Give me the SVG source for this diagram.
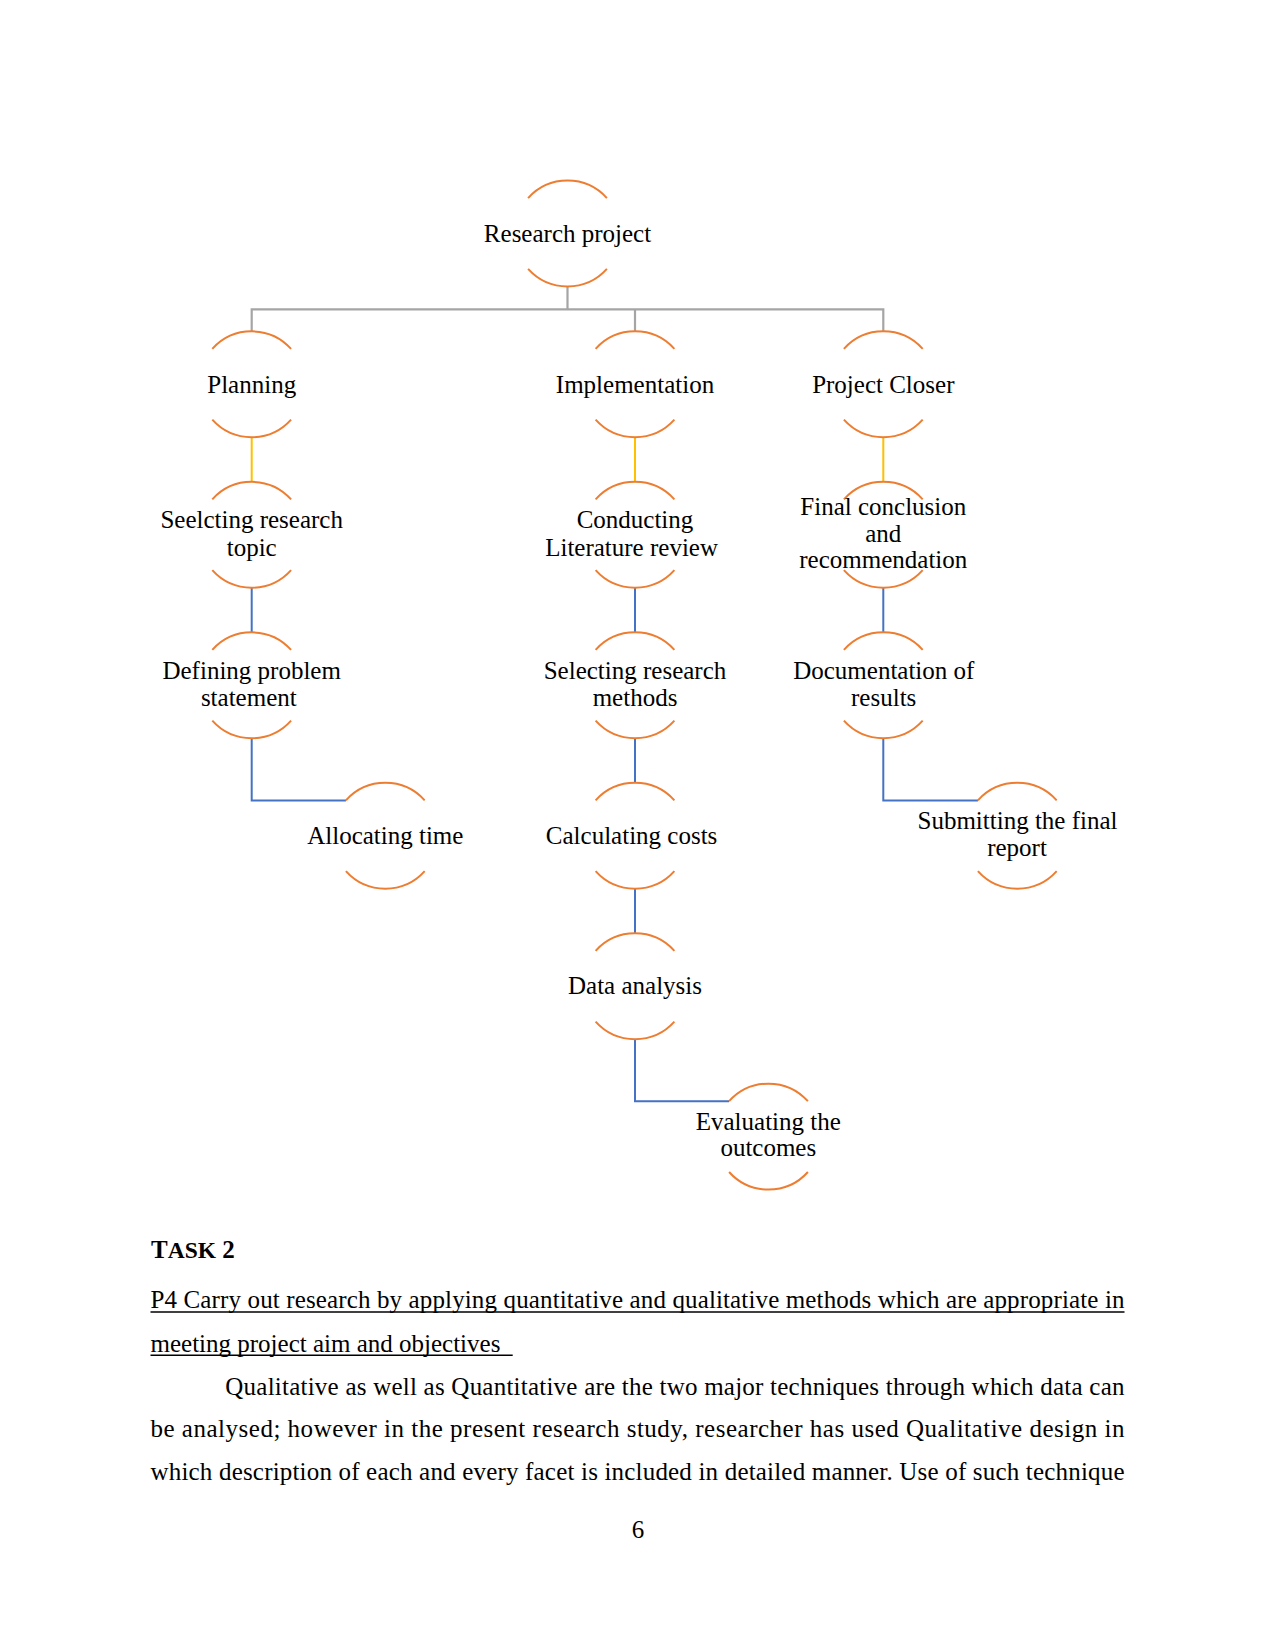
<svg xmlns="http://www.w3.org/2000/svg" xmlns:xlink="http://www.w3.org/1999/xlink" width="1275" height="1651" viewBox="0 0 1275 1651">
<style>
.arc{fill:none;stroke:#ed7d31;stroke-width:2}
.t{font-family:"Liberation Serif","Times New Roman",serif;font-size:25px;fill:#000;text-anchor:middle}
.b{font-family:"Liberation Serif","Times New Roman",serif;font-size:25px;fill:#000}
.gray{fill:none;stroke:#a5a5a5;stroke-width:2.2}
.yel{fill:none;stroke:#ffc000;stroke-width:2}
.blue{fill:none;stroke:#4472c4;stroke-width:2}
.ul{stroke:#000;stroke-width:1.4}
</style>
<defs>
<path id="ring" class="arc" d="M-39.4,-35.4 A53,53 0 0 1 39.4,-35.4 M-39.4,35.4 A53,53 0 0 0 39.4,35.4"/>
</defs>
<rect width="1275" height="1651" fill="#fff"/>
<g id="connectors">
<path class="gray" d="M567.5,286.5 V309.3 M251.7,309.3 H883.3 M251.7,308.2 V331.3 M635,309.3 V331.3 M883.3,308.2 V331.3"/>
<path class="yel" d="M251.7,437.3 V481.8 M635,437.3 V481.8 M883.3,437.3 V481.8"/>
<path class="blue" d="M251.7,587.8 V632.3 M635,587.8 V632.3 M883.3,587.8 V632.3 M635,738.3 V782.8 M635,888.8 V933.2"/>
<path class="blue" d="M251.7,738.3 V800.4 H345.9 M883.3,738.3 V800.4 H977.9 M635,1039.2 V1101.2 H729.1"/>
</g>
<g id="n0"><use xlink:href="#ring" x="567.5" y="233.5"/><text class="t" x="567.5" y="242">Research project</text></g>
<g id="n1"><use xlink:href="#ring" x="251.7" y="384.3"/><text class="t" x="251.7" y="392.5">Planning</text></g>
<g id="n2"><use xlink:href="#ring" x="635" y="384.3"/><text class="t" x="635" y="392.5">Implementation</text></g>
<g id="n3"><use xlink:href="#ring" x="883.3" y="384.3"/><text class="t" x="883.3" y="392.5">Project Closer</text></g>
<g id="n4"><use xlink:href="#ring" x="251.7" y="534.8"/><text class="t" x="251.7" y="528.3">Seelcting research</text><text class="t" x="251.7" y="555.5">topic</text></g>
<g id="n5"><use xlink:href="#ring" x="635" y="534.8"/><text class="t" x="635" y="528.3">Conducting</text><text class="t" x="631.6" y="555.5">Literature review</text></g>
<g id="n6"><use xlink:href="#ring" x="883.3" y="534.8"/><text class="t" x="883.3" y="515">Final conclusion</text><text class="t" x="883.3" y="541.7">and</text><text class="t" x="883.3" y="568.3">recommendation</text></g>
<g id="n7"><use xlink:href="#ring" x="251.7" y="685.3"/><text class="t" x="251.7" y="679">Defining problem</text><text class="t" x="248.8" y="705.7">statement</text></g>
<g id="n8"><use xlink:href="#ring" x="635" y="685.3"/><text class="t" x="635" y="679">Selecting research</text><text class="t" x="635" y="705.7">methods</text></g>
<g id="n9"><use xlink:href="#ring" x="883.3" y="685.3"/><text class="t" x="883.8" y="679">Documentation of</text><text class="t" x="883.7" y="705.7">results</text></g>
<g id="n10"><use xlink:href="#ring" x="385.3" y="835.8"/><text class="t" x="385.3" y="844.3">Allocating time</text></g>
<g id="n11"><use xlink:href="#ring" x="635" y="835.8"/><text class="t" x="631.6" y="844.3">Calculating costs</text></g>
<g id="n12"><use xlink:href="#ring" x="1017.3" y="835.8"/><text class="t" x="1017.5" y="829.3">Submitting the final</text><text class="t" x="1017" y="856">report</text></g>
<g id="n13"><use xlink:href="#ring" x="635" y="986.2"/><text class="t" x="635" y="993.5">Data analysis</text></g>
<g id="n14"><use xlink:href="#ring" x="768.5" y="1136.6"/><text class="t" x="768.3" y="1130">Evaluating the</text><text class="t" x="768.3" y="1156">outcomes</text></g>
<g id="body">
<text class="b" x="151" y="1258.3" font-weight="bold" font-size="32">T<tspan font-size="23.5">ASK</tspan> 2</text>
<text class="b" x="150.5" y="1308.3" textLength="974" lengthAdjust="spacing">P4 Carry out research by applying quantitative and qualitative methods which are appropriate in</text>
<line class="ul" x1="150.5" y1="1312" x2="1124.5" y2="1312"/>
<text class="b" x="150.5" y="1351.5">meeting project aim and objectives </text>
<line class="ul" x1="150.5" y1="1355.2" x2="512.7" y2="1355.2"/>
<text class="b" x="225.3" y="1395" textLength="899.2" lengthAdjust="spacing">Qualitative as well as Quantitative are the two major techniques through which data can</text>
<text class="b" x="150.5" y="1437.3" textLength="974" lengthAdjust="spacing">be analysed; however in the present research study, researcher has used Qualitative design in</text>
<text class="b" x="150.5" y="1479.5" textLength="974" lengthAdjust="spacing">which description of each and every facet is included in detailed manner. Use of such technique</text>
<text class="t" x="638" y="1538">6</text>
</g>
</svg>
